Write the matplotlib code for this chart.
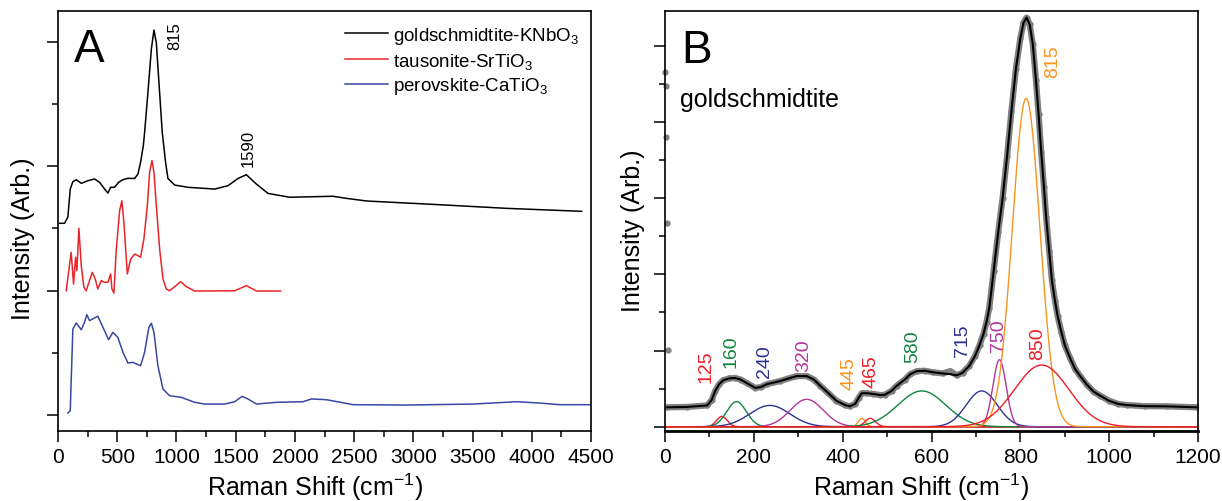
import numpy as np
import matplotlib
matplotlib.use("Agg")
import matplotlib.pyplot as plt
from matplotlib.ticker import MultipleLocator

plt.rcParams['font.family'] = ['Liberation Sans', 'DejaVu Sans']
plt.rcParams['mathtext.fontset'] = 'custom'
plt.rcParams['mathtext.rm'] = 'Liberation Sans'
plt.rcParams['mathtext.it'] = 'Liberation Sans:italic'

# ---- panel A: Raman spectra (offset stacked) ----
kn_x = [13, 55, 83, 103, 125, 154, 196, 252, 308, 351, 393, 421, 444, 477, 511, 548, 590,
        647, 675, 697, 720, 731, 759, 788, 810, 830, 852, 880, 908, 928, 985, 1097, 1323,
        1435, 1520, 1590, 1675, 1773, 1956, 2322, 2436, 2605, 3224, 3788, 4421]
kn_y = [1.54, 1.54, 1.59, 1.815, 1.874, 1.89, 1.861, 1.882, 1.896, 1.869, 1.815, 1.783,
        1.829, 1.829, 1.869, 1.89, 1.901, 1.90, 1.936, 2.03, 2.163, 2.27, 2.59, 2.94, 3.092,
        2.99, 2.67, 2.27, 2.03, 1.90, 1.847, 1.829, 1.815, 1.842, 1.90, 1.93, 1.855, 1.78,
        1.749, 1.757, 1.74, 1.719, 1.689, 1.66, 1.636]

sr_x = [69, 89, 111, 131, 148, 159, 176, 196, 218, 238, 252, 289, 314, 336, 365, 393, 421,
        444, 455, 472, 492, 520, 539, 556, 585, 613, 647, 675, 697, 725, 754, 773, 793, 810,
        830, 858, 886, 914, 942, 985, 1035, 1083, 1154, 1492, 1590, 1675, 1878]
sr_y = [0.998, 1.146, 1.307, 1.052, 1.267, 1.16, 1.50, 1.20, 1.026, 0.998, 1.04, 1.146,
        1.093, 1.012, 1.08, 1.066, 1.066, 1.133, 1.012, 0.98, 1.333, 1.641, 1.721, 1.548,
        1.133, 1.253, 1.293, 1.28, 1.267, 1.414, 1.681, 1.949, 2.043, 1.949, 1.681, 1.333,
        1.093, 1.012, 0.998, 1.031, 1.071, 1.031, 0.996, 0.998, 1.039, 0.996, 0.996]

ca_x = [83, 103, 125, 154, 196, 224, 243, 266, 303, 336, 379, 427, 463, 505, 548, 590, 632,
        697, 731, 767, 788, 810, 843, 886, 942, 1041, 1154, 1238, 1407, 1492, 1554, 1604,
        1675, 1844, 2069, 2140, 2267, 2492, 2943, 3506, 3873, 4069, 4238, 4492]
ca_y = [0.016, 0.035, 0.691, 0.739, 0.685, 0.745, 0.806, 0.758, 0.777, 0.793, 0.705,
        0.605, 0.664, 0.624, 0.504, 0.418, 0.423, 0.396, 0.504, 0.705, 0.737, 0.664, 0.396,
        0.209, 0.155, 0.142, 0.102, 0.088, 0.088, 0.107, 0.150, 0.129, 0.088, 0.102, 0.107,
        0.129, 0.123, 0.083, 0.080, 0.088, 0.107, 0.096, 0.083, 0.083]

names_a = ['goldschmidtite-KNbO$_3$', 'tausonite-SrTiO$_3$', 'perovskite-CaTiO$_3$']
peaks_a = ['815', '1590']
peaks_a_x = [985, 1604]
peaks_a_y = [2.94, 2.0]

# ---- panel B: goldschmidtite peak fit ----
rayleigh_x = [1, 2, 3, 4, 6]
rayleigh_y = [4.65, 4.47, 3.80, 2.67, 1.01]

fit_x = [5, 50, 95, 105, 113, 122, 131, 145, 158, 170, 185, 203, 215, 230, 259, 296, 319,
         335, 349, 368, 386, 405, 416, 428, 436, 443, 455, 469, 485, 495, 510, 522, 540,
         552, 567, 585, 604, 625, 642, 657, 670, 685, 698, 708, 717, 724, 730, 740, 750,
         760, 770, 780, 790, 800, 807, 814, 821, 828, 835, 841, 847, 853, 858, 865, 871,
         878, 884, 892, 900, 912, 923, 934, 950, 965, 979, 1000, 1020, 1039, 1080, 1129, 1197]
fit_y = [0.255, 0.26, 0.28, 0.35, 0.47, 0.56, 0.61, 0.635, 0.64, 0.62, 0.57, 0.51, 0.52,
         0.56, 0.60, 0.665, 0.665, 0.62, 0.54, 0.44, 0.34, 0.285, 0.268, 0.30, 0.38, 0.44,
         0.44, 0.43, 0.415, 0.42, 0.47, 0.54, 0.62, 0.69, 0.73, 0.735, 0.714, 0.70, 0.69,
         0.675, 0.71, 0.80, 0.93, 1.07, 1.22, 1.38, 1.56, 2.05, 2.55, 3.0, 3.55, 4.15, 4.7,
         5.1, 5.3, 5.37, 5.28, 5.02, 4.55, 4.1, 3.6, 3.15, 2.75, 2.3, 1.92, 1.65, 1.45,
         1.25, 1.07, 0.9, 0.76, 0.67, 0.55, 0.46, 0.41, 0.34, 0.30, 0.285, 0.27, 0.268, 0.255]
raw_y = [0.255, 0.26, 0.28, 0.35, 0.47, 0.56, 0.61, 0.635, 0.64, 0.62, 0.57, 0.51, 0.52,
         0.56, 0.60, 0.665, 0.665, 0.62, 0.54, 0.44, 0.34, 0.285, 0.268, 0.30, 0.38, 0.44,
         0.44, 0.43, 0.415, 0.42, 0.47, 0.54, 0.62, 0.69, 0.73, 0.735, 0.714, 0.70, 0.73,
         0.675, 0.71, 0.80, 0.93, 1.07, 1.22, 1.38, 1.56, 2.05, 2.55, 3.0, 3.55, 4.15, 4.7,
         5.1, 5.3, 5.37, 5.28, 5.02, 4.55, 4.1, 3.6, 3.15, 2.75, 2.3, 1.92, 1.65, 1.45,
         1.25, 1.07, 0.9, 0.76, 0.67, 0.55, 0.46, 0.41, 0.34, 0.30, 0.285, 0.27, 0.268, 0.255]

# fitted band components: label, centre, height, sigma
band_labels = ['125', '160', '240', '320', '445', '465', '580', '715', '750', '815', '850']
band_pos = [128, 161, 236, 319, 443, 462, 578, 713, 753, 813, 848]
band_height = [0.136, 0.33, 0.28, 0.36, 0.11, 0.11, 0.47, 0.47, 0.88, 4.31, 0.81]
band_sigma = [12, 22, 45, 37, 8, 12, 54, 35, 15, 31, 61]

RED, GREEN, BLUE, MAG, ORANGE = '#ee1c25', '#13853e', '#2e3192', '#b0379a', '#f7931e'
band_colors = [RED, GREEN, BLUE, MAG, ORANGE, RED, GREEN, BLUE, MAG, ORANGE, RED]
lab_x = [92, 148, 225, 313, 414, 463, 557, 669, 750, 872, 838]
lab_y = [0.587, 0.78, 0.65, 0.73, 0.495, 0.52, 0.85, 0.93, 0.99, 4.59, 0.89]

fig = plt.figure(figsize=(12.22, 5.02), dpi=100)
axA = fig.add_axes([0.0475, 0.1394, 0.4361, 0.8367])
axB = fig.add_axes([0.5442, 0.1394, 0.4362, 0.8367])

def style(ax):
    for s in ax.spines.values():
        s.set_linewidth(1.2)
    ax.tick_params(which='both', direction='out', top=False, right=False,
                   labelsize=15, width=1.1)
    ax.tick_params(which='major', length=8)
    ax.tick_params(which='minor', length=4.5)
    ax.set_yticklabels([])
    ax.tick_params(axis='y', labelleft=False)

# panel A
axA.plot(kn_x, kn_y, color='black', lw=1.1, label=names_a[0])
axA.plot(sr_x, sr_y, color='#e8262a', lw=1.1, label=names_a[1])
axA.plot(ca_x, ca_y, color='#3a47a0', lw=1.1, label=names_a[2])
axA.set_xlim(0, 4500)
axA.set_ylim(-0.1285, 3.245)
axA.xaxis.set_major_locator(MultipleLocator(500))
axA.xaxis.set_minor_locator(MultipleLocator(250))
axA.yaxis.set_major_locator(MultipleLocator(1))
axA.yaxis.set_minor_locator(MultipleLocator(0.5))
style(axA)
for t, x, y in zip(peaks_a, peaks_a_x, peaks_a_y):
    axA.text(x, y, t, rotation=90, ha='center', va='bottom', fontsize=12)
axA.text(0.030, 0.881, 'A', transform=axA.transAxes, fontsize=33, va='baseline')
axA.legend(loc='upper left', bbox_to_anchor=(0.5385, 0.967), frameon=False,
           fontsize=13.5, borderpad=0, borderaxespad=0, handlelength=2.3,
           handletextpad=0.25, labelspacing=0.25)
axA.set_xlabel('Raman Shift (cm$^{-1}$)', fontsize=18)
axA.set_ylabel('Intensity (Arb.)', fontsize=18)
axA.xaxis.set_label_coords(0.482, -0.095)
axA.yaxis.set_label_coords(-0.043, 0.46)

# panel B
grid = np.linspace(0, 1200, 1201)
for c, h, s, col in zip(band_pos, band_height, band_sigma, band_colors):
    axB.plot(grid, h * np.exp(-(grid - c) ** 2 / (2 * s ** 2)), color=col, lw=1.0)
axB.plot(fit_x, raw_y, color='#808080', lw=4.5, solid_capstyle='round')
axB.plot(fit_x, raw_y, 'o', color='#808080', ms=3.5)
axB.plot(rayleigh_x, rayleigh_y, 'o', color='#808080', ms=3.5, clip_on=False)
axB.plot(fit_x, fit_y, color='black', lw=1.5)
axB.set_xlim(0, 1200)
axB.set_ylim(-0.056, 5.456)
axB.xaxis.set_major_locator(MultipleLocator(200))
axB.xaxis.set_minor_locator(MultipleLocator(100))
axB.yaxis.set_major_locator(MultipleLocator(1))
axB.yaxis.set_minor_locator(MultipleLocator(0.5))
style(axB)
axB.spines['bottom'].set_linewidth(2.0)
for t, x, y, col in zip(band_labels, lab_x, lab_y, band_colors):
    axB.text(x, y, t, rotation=90, ha='center', va='bottom', fontsize=14, color=col)
axB.text(0.031, 0.878, 'B', transform=axB.transAxes, fontsize=33, va='baseline')
axB.text(0.028, 0.774, 'goldschmidtite', transform=axB.transAxes, fontsize=18,
         va='baseline')
axB.set_xlabel('Raman Shift (cm$^{-1}$)', fontsize=18)
axB.set_ylabel('Intensity (Arb.)', fontsize=18)
axB.xaxis.set_label_coords(0.48, -0.095)
axB.yaxis.set_label_coords(-0.0375, 0.479)

fig.savefig('out.png', dpi=100)
